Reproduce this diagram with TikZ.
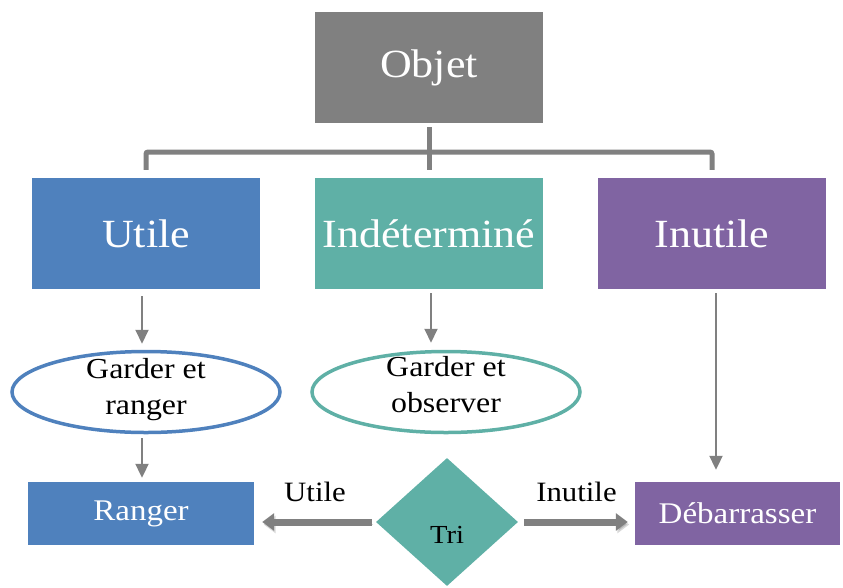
\documentclass[tikz,border=0pt]{standalone}
\usepackage{fontspec}
\setmainfont{Liberation Serif}[FakeStretch=1.1]
\usetikzlibrary{arrows.meta}
\usetikzlibrary{positioning}
\usetikzlibrary{shapes.geometric}
\definecolor{mgray}{HTML}{808080}
\definecolor{mblue}{HTML}{4F81BD}
\definecolor{mteal}{HTML}{5FB0A6}
\definecolor{mpurple}{HTML}{8064A2}
\tikzset{bigbox/.style = {rectangle, minimum width=228pt, minimum height=111pt, inner sep=0,
                          text=white, font=\fontsize{40}{42}\selectfont}}
\tikzset{smallbox/.style = {rectangle, minimum height=63pt, inner sep=0,
                            text=white, font=\fontsize{30}{32}\selectfont}}
\tikzset{oval/.style = {ellipse, draw, line width=3.5pt, fill=white, minimum width=268pt,
                        minimum height=81pt, inner sep=0}}
\tikzset{ovaltext/.style = {align=center, font=\fontsize{29}{36}\selectfont}}
\tikzset{bus/.style = {draw=mgray, line width=5pt, rounded corners=2pt}}
\tikzset{thinarrow/.style = {draw=mgray, line width=2pt, -{Triangle[width=13pt,length=14pt]}}}
\tikzset{fatarrow/.style = {draw=mgray, line width=7pt, -{Triangle[width=17pt,length=12pt]},
                            preaction={draw=black, opacity=0.15, transform canvas={shift={(1.5pt,-2.5pt)}}}}}

\begin{document}
\begin{tikzpicture}[x=1pt, y=-1pt]
    \useasboundingbox (0,0) rectangle (843,587);

    \node [bigbox, fill=mgray] (objet) at (429, 67.5) {Objet};
    \node [bigbox, fill=mblue] (utile) at (146, 233.5) {Utile};
    \node [bigbox, fill=mteal] (indet) at (429, 233.5) {Indéterminé};
    \node [bigbox, fill=mpurple] (inutile) at (712, 233.5) {Inutile};

    \draw [bus, shorten <=4pt, shorten >=8pt] (objet.south) -- (indet.north);
    \draw [bus, shorten <=8pt, shorten >=8pt] (utile.north) -- (utile.north |- 0,152) -- (inutile.north |- 0,152) -- (inutile.north);

    \node [oval, draw=mblue] (garder) at (146, 392) {};
    \node [ovaltext] (gardertext) at (146, 390) {Garder et\\ranger};
    \node [oval, draw=mteal] (observer) at (446, 392) {};
    \node [ovaltext] (observertext) at (446, 385) {Garder et\\observer};

    \node [smallbox, fill=mblue, minimum width=226pt] (ranger) at (141, 513.5) {Ranger};
    \node [smallbox, fill=mpurple, minimum width=205pt] (debarras) at (737.5, 513.5) {Débarrasser};

    \node [diamond, fill=mteal, minimum width=142pt, minimum height=128pt, inner sep=0] (tri) at (447, 522) {};
    \node [font=\fontsize{26}{28}\selectfont] (tritext) at (447, 535) {Tri};

    \draw [thinarrow, shorten <=7pt, shorten >=6pt] (utile.south -| 142,0) -- (garder.north -| 142,0);
    \draw [thinarrow, shorten <=4pt, shorten >=7pt] (indet.south -| 431,0) -- (observer.north -| 431,0);
    \draw [thinarrow, shorten <=4pt, shorten >=4pt] (garder.south -| 142,0) -- (ranger.north -| 142,0);
    \draw [thinarrow, shorten <=4pt, shorten >=12pt] (inutile.south -| 716,0) -- (debarras.north -| 716,0);

    \draw [fatarrow, shorten <=4pt, shorten >=8pt] (tri.west) -- (tri.west -| ranger.east)
        node [midway, above=13pt, font=\fontsize{28}{30}\selectfont] (lutile) {Utile};
    \draw [fatarrow, shorten <=6pt, shorten >=7pt] (tri.east) -- (tri.east -| debarras.west)
        node [midway, above=13pt, font=\fontsize{28}{30}\selectfont] (linutile) {Inutile};
  \end{tikzpicture}
\end{document}
